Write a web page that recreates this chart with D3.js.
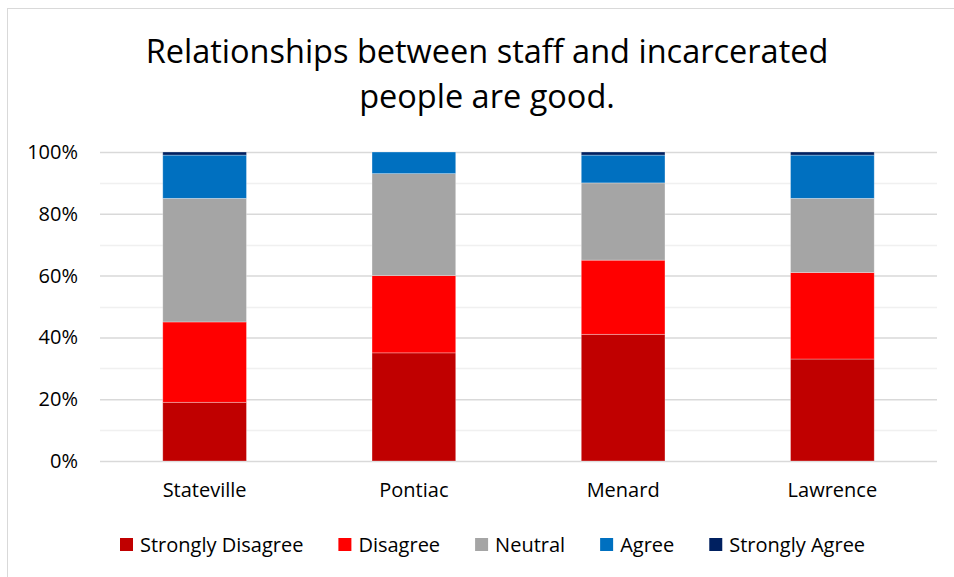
<!DOCTYPE html>
<html>
<head>
<meta charset="utf-8">
<script src="https://cdn.jsdelivr.net/npm/d3@7"></script>
<style>
  body { margin: 0; background: #fff; }
  text { font-family: "Open Sans", sans-serif; fill: #000; }
</style>
</head>
<body>
<div id="container"><svg></svg></div>
<script>
let width = 954;
let height = 577;

// data
let prisons = ["Stateville", "Pontiac", "Menard", "Lawrence"];
let answers = ["Strongly Disagree", "Disagree", "Neutral", "Agree", "Strongly Agree"];
let stronglyDisagree = [19, 35, 41, 33];
let disagree = [26, 25, 24, 28];
let neutral = [40, 33, 25, 24];
let agree = [14, 7, 9, 14];
let stronglyAgree = [1, 0, 1, 1];
let yTicks = [0, 0.2, 0.4, 0.6, 0.8, 1];
let colors = ["#c00000", "#ff0000", "#a5a5a5", "#0070c0", "#002060"];

let series = [stronglyDisagree, disagree, neutral, agree, stronglyAgree];
let rows = prisons.map((p, i) => {
    let r = {prison: p};
    answers.forEach((a, j) => r[a] = series[j][i] / 100);
    return r;
});

let svg = d3.select('#container').select('svg')
    .attr('width', width)
    .attr('height', height);

// chart border
svg.append("rect")
    .attr("x", 7.5).attr("y", 8.5)
    .attr("width", width).attr("height", height)
    .attr("fill", "none")
    .attr("stroke", "#d9d9d9");

let margin = {left: 100, right: 17, top: 152, bottom: 116};

let x = d3.scaleBand()
    .domain(prisons)
    .range([margin.left, width - margin.right])
    .paddingInner(0.6)
    .paddingOuter(0.3);

let y = d3.scaleLinear()
    .domain([0, 1])
    .range([height - margin.bottom, margin.top]);

// title
svg.append("text")
    .attr("x", 487).attr("y", 63)
    .attr("text-anchor", "middle")
    .attr("font-size", 32.5)
    .selectAll("tspan")
    .data(["Relationships between staff and incarcerated", "people are good."])
    .join("tspan")
    .attr("x", 487)
    .attr("dy", (d, i) => i ? 45 : 0)
    .text(d => d);

// minor gridlines
svg.append("g")
    .selectAll("line")
    .data(d3.range(0.1, 1, 0.2))
    .join("line")
    .attr("x1", margin.left).attr("x2", width - margin.right)
    .attr("y1", d => Math.round(y(d)) + 0.5)
    .attr("y2", d => Math.round(y(d)) + 0.5)
    .attr("stroke", "#f0f0f0")
    .attr("stroke-width", 1.5);

// y axis with major gridlines
let yAxis = svg.append("g")
    .attr("transform", `translate(${margin.left},0)`)
    .call(d3.axisLeft(y)
        .tickValues(yTicks)
        .tickFormat(d3.format(".0%"))
        .tickSize(-(width - margin.left - margin.right))
        .tickPadding(22));
yAxis.select(".domain").remove();
yAxis.selectAll(".tick line")
    .attr("stroke", "#d9d9d9")
    .attr("stroke-width", 1.5);
yAxis.selectAll(".tick text")
    .attr("font-size", 20)
    .attr("font-family", "'Open Sans', sans-serif")
    .attr("fill", "#000");

// stacked bars
let stack = d3.stack().keys(answers);
let layers = stack(rows);

svg.append("g")
    .selectAll("g")
    .data(layers)
    .join("g")
    .attr("fill", (d, i) => colors[i])
    .selectAll("rect")
    .data(d => d)
    .join("rect")
    .attr("x", d => x(d.data.prison))
    .attr("width", x.bandwidth())
    .attr("y", d => y(d[1]))
    .attr("height", d => y(d[0]) - y(d[1]))
    .attr("stroke", "#ffffff")
    .attr("stroke-opacity", 0.4)
    .attr("stroke-width", 0.75);

// x axis labels
let xAxis = svg.append("g")
    .attr("transform", `translate(0,${height - margin.bottom})`)
    .call(d3.axisBottom(x).tickSize(0).tickPadding(22));
xAxis.select(".domain").remove();
xAxis.selectAll(".tick text")
    .attr("font-size", 20)
    .attr("font-family", "'Open Sans', sans-serif")
    .attr("fill", "#000");

// legend
let legend = svg.append("g").attr("transform", "translate(120,545)");
let lx = 0;
answers.forEach((a, i) => {
    let g = legend.append("g").attr("transform", `translate(${lx},0)`);
    g.append("rect")
        .attr("x", 0).attr("y", -7)
        .attr("width", 13).attr("height", 13)
        .attr("fill", colors[i]);
    let t = g.append("text")
        .attr("x", 20).attr("y", 7)
        .attr("font-size", 20)
        .text(a);
    lx += 20 + t.node().getComputedTextLength() + 35;
});
</script>
</body>
</html>
